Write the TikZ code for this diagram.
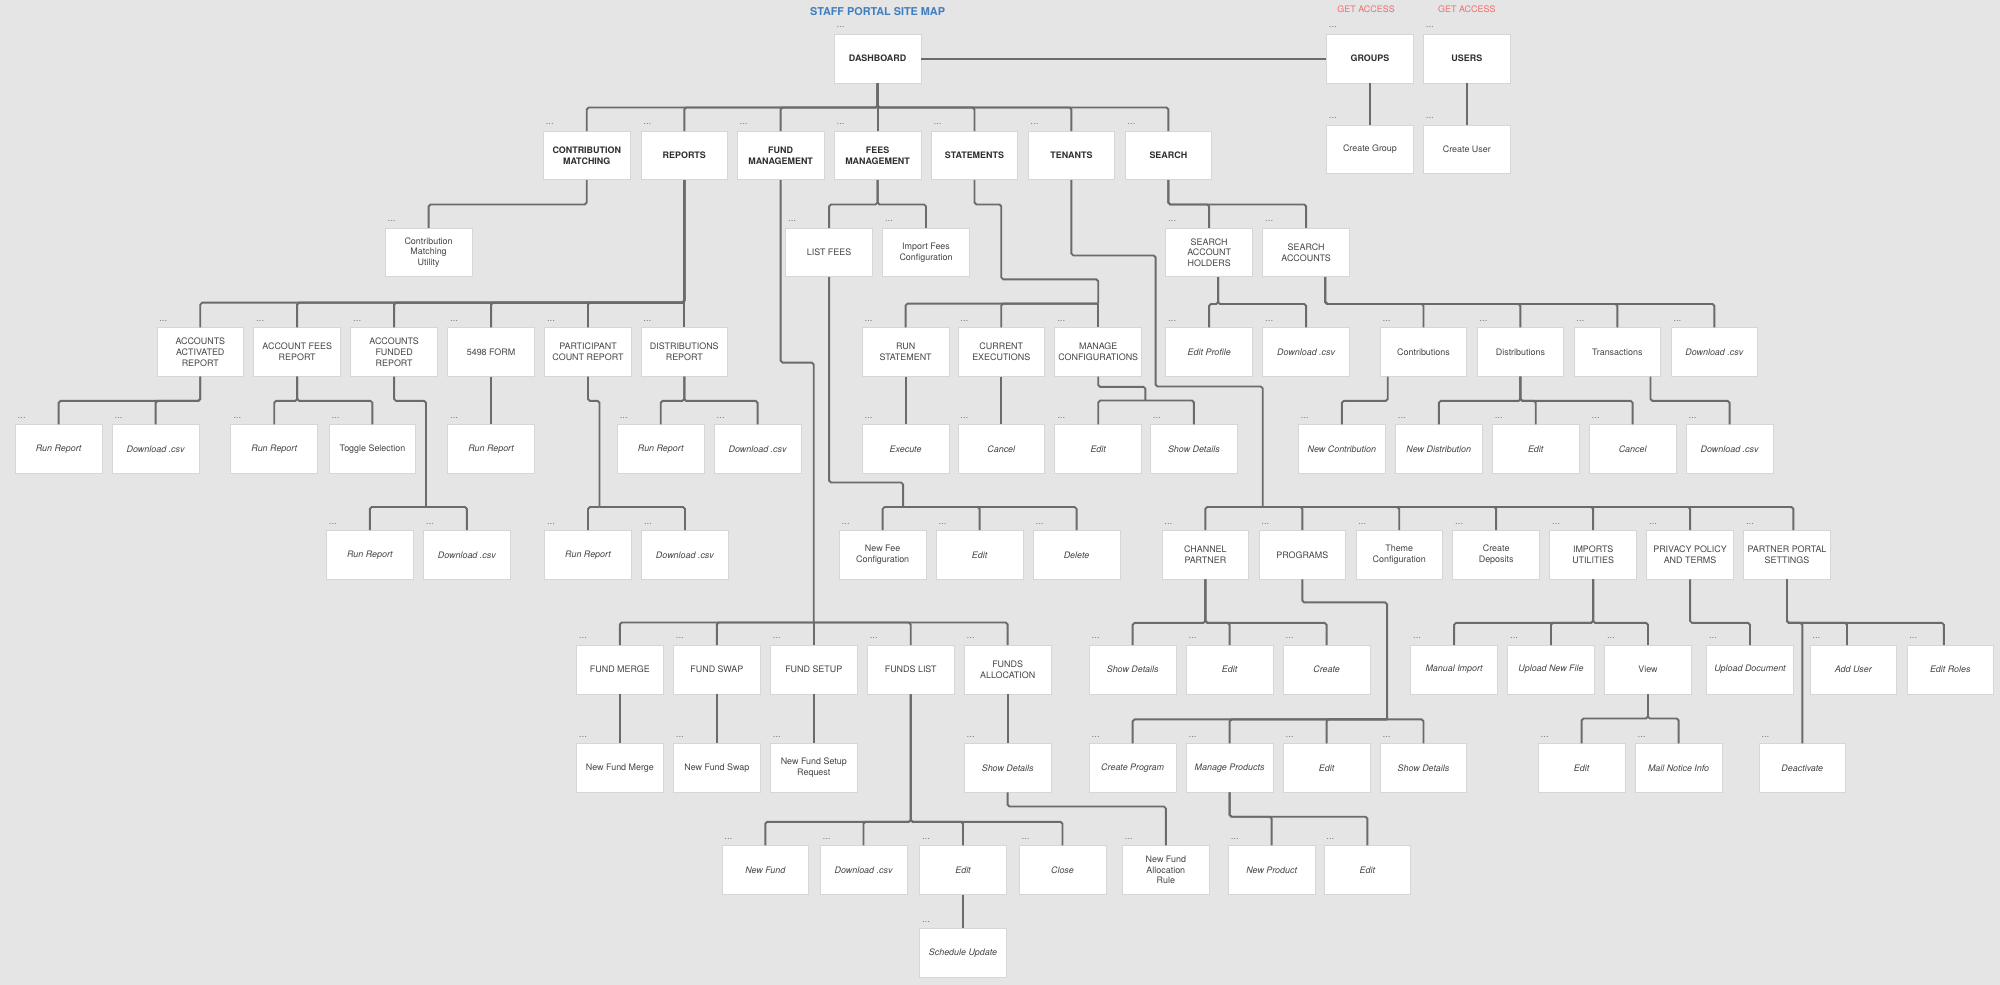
\documentclass[tikz,border=0pt]{standalone}
\usepackage{fontspec}
\setmainfont{TeX Gyre Heros}
\definecolor{canvas}{HTML}{E5E5E5}
\definecolor{wirecol}{HTML}{6B6B6B}
\definecolor{rim}{HTML}{D6D6D6}
\definecolor{ink}{HTML}{444444}
\definecolor{darkink}{HTML}{2E2E2E}
\definecolor{titleblue}{HTML}{3F7EBF}
\definecolor{accessred}{HTML}{F26B6B}
\definecolor{dotgray}{HTML}{7A7A7A}

\begin{document}
\begin{tikzpicture}[x=1pt,y=-1pt,
    pagebox/.style={draw=rim, line width=0.6pt, fill=white, text=ink, align=center,
        minimum width=68, minimum height=38, inner sep=1pt,
        font=\fontsize{7}{8.4}\selectfont, label={[dotlbl]north west:...}},
    dotlbl/.style={anchor=south west, inner sep=0pt, xshift=2, yshift=4.5,
        text=dotgray, font=\fontsize{7.5}{7.5}\selectfont},
    secbox/.style={pagebox, text=darkink, font=\fontsize{7}{8.4}\selectfont\bfseries},
    actbox/.style={pagebox, font=\fontsize{7}{8.4}\selectfont\itshape},
    wire/.style={draw=wirecol, line width=1.5pt, rounded corners=1.5pt},
    drop/.style={to path={-- ++(0,#1) -| (\tikztotarget)}},
    hv/.style={to path={-| (\tikztotarget)}},
    access/.style={text=accessred, font=\fontsize{7}{8}\selectfont},
  ]

    \path[use as bounding box, fill=canvas] (0,0) rectangle (1568,772.2);

    \node[text=titleblue, font=\fontsize{8.5}{10}\selectfont\bfseries] (title) at (688, 9) {STAFF PORTAL SITE MAP};
    \node[access] (accg) at (1071, 7) {GET ACCESS};
    \node[access] (accu) at (1150, 7) {GET ACCESS};

    % top row
    \node[secbox] (dash) at (688, 46) {DASHBOARD};
    \node[secbox] (groups) at (1074, 46) {GROUPS};
    \node[secbox] (users) at (1150, 46) {USERS};
    \node[pagebox] (crgroup) at (1074, 117) {Create Group};
    \node[pagebox] (cruser) at (1150, 117) {Create User};

    % sections
    \node[secbox] (cm) at (460, 122) {CONTRIBUTION\\MATCHING};
    \node[secbox] (reports) at (536.5, 122) {REPORTS};
    \node[secbox] (fundmgmt) at (612, 122) {FUND\\MANAGEMENT};
    \node[secbox] (feesmgmt) at (688, 122) {FEES\\MANAGEMENT};
    \node[secbox] (statements) at (764, 122) {STATEMENTS};
    \node[secbox] (tenants) at (840, 122) {TENANTS};
    \node[secbox] (search) at (916, 122) {SEARCH};

    % level 2
    \node[pagebox] (cmu) at (336, 198) {Contribution\\Matching\\Utility};
    \node[pagebox] (listfees) at (650, 198) {LIST FEES};
    \node[pagebox] (importfees) at (726, 198) {Import Fees\\Configuration};
    \node[pagebox] (sah) at (948, 198) {SEARCH\\ACCOUNT\\HOLDERS};
    \node[pagebox] (sacc) at (1024, 198) {SEARCH\\ACCOUNTS};

    % level 3
    \node[pagebox] (aar) at (157, 276) {ACCOUNTS\\ACTIVATED\\REPORT};
    \node[pagebox] (afr) at (233, 276) {ACCOUNT FEES\\REPORT};
    \node[pagebox] (afdr) at (309, 276) {ACCOUNTS\\FUNDED\\REPORT};
    \node[pagebox] (form) at (385, 276) {5498 FORM};
    \node[pagebox] (pcr) at (461, 276) {PARTICIPANT\\COUNT REPORT};
    \node[pagebox] (dr) at (536.5, 276) {DISTRIBUTIONS\\REPORT};
    \node[pagebox] (runst) at (710, 276) {RUN\\STATEMENT};
    \node[pagebox] (curex) at (785, 276) {CURRENT\\EXECUTIONS};
    \node[pagebox] (mancfg) at (861, 276) {MANAGE\\CONFIGURATIONS};
    \node[actbox] (editprof) at (948, 276) {Edit Profile};
    \node[actbox] (sahcsv) at (1024, 276) {Download .csv};
    \node[pagebox] (contribs) at (1116, 276) {Contributions};
    \node[pagebox] (distribs) at (1192, 276) {Distributions};
    \node[pagebox] (trans) at (1268, 276) {Transactions};
    \node[actbox] (saccsv) at (1344, 276) {Download .csv};

    % level 4
    \node[actbox] (aarrun) at (46, 352) {Run Report};
    \node[actbox] (aarcsv) at (122, 352) {Download .csv};
    \node[actbox] (afrrun) at (215, 352) {Run Report};
    \node[pagebox] (afrtog) at (292, 352) {Toggle Selection};
    \node[actbox] (formrun) at (385, 352) {Run Report};
    \node[actbox] (drrun) at (518, 352) {Run Report};
    \node[actbox] (drcsv) at (594, 352) {Download .csv};
    \node[actbox] (exec) at (710, 352) {Execute};
    \node[actbox] (cancel) at (785, 352) {Cancel};
    \node[actbox] (cfgedit) at (861, 352) {Edit};
    \node[actbox] (cfgshow) at (936, 352) {Show Details};
    \node[actbox] (newcon) at (1052, 352) {New Contribution};
    \node[actbox] (newdis) at (1128, 352) {New Distribution};
    \node[actbox] (disedit) at (1204, 352) {Edit};
    \node[actbox] (discancel) at (1280, 352) {Cancel};
    \node[actbox] (transcsv) at (1356, 352) {Download .csv};

    % level 5
    \node[actbox] (afdrrun) at (290, 435) {Run Report};
    \node[actbox] (afdrcsv) at (366, 435) {Download .csv};
    \node[actbox] (pcrrun) at (461, 435) {Run Report};
    \node[actbox] (pcrcsv) at (537, 435) {Download .csv};
    \node[pagebox] (newfee) at (692, 435) {New Fee\\Configuration};
    \node[actbox] (feeedit) at (768, 435) {Edit};
    \node[actbox] (feedel) at (844, 435) {Delete};
    \node[pagebox] (chp) at (945, 435) {CHANNEL\\PARTNER};
    \node[pagebox] (programs) at (1021, 435) {PROGRAMS};
    \node[pagebox] (theme) at (1097, 435) {Theme\\Configuration};
    \node[pagebox] (deposits) at (1173, 435) {Create\\Deposits};
    \node[pagebox] (imports) at (1249, 435) {IMPORTS\\UTILITIES};
    \node[pagebox] (privacy) at (1325, 435) {PRIVACY POLICY\\AND TERMS};
    \node[pagebox] (ppset) at (1401, 435) {PARTNER PORTAL\\SETTINGS};

    % level 6
    \node[pagebox] (fmerge) at (486, 525) {FUND MERGE};
    \node[pagebox] (fswap) at (562, 525) {FUND SWAP};
    \node[pagebox] (fsetup) at (638, 525) {FUND SETUP};
    \node[pagebox] (flist) at (714, 525) {FUNDS LIST};
    \node[pagebox] (falloc) at (790, 525) {FUNDS\\ALLOCATION};
    \node[actbox] (chpshow) at (888, 525) {Show Details};
    \node[actbox] (chpedit) at (964, 525) {Edit};
    \node[actbox] (chpcreate) at (1040, 525) {Create};
    \node[actbox] (manimp) at (1140, 525) {Manual Import};
    \node[actbox] (upfile) at (1216, 525) {Upload New File};
    \node[pagebox] (view) at (1292, 525) {View};
    \node[actbox] (updoc) at (1372, 525) {Upload Document};
    \node[actbox] (adduser) at (1453, 525) {Add User};
    \node[actbox] (editroles) at (1529, 525) {Edit Roles};

    % level 7
    \node[pagebox] (newmerge) at (486, 602) {New Fund Merge};
    \node[pagebox] (newswap) at (562, 602) {New Fund Swap};
    \node[pagebox] (newsetup) at (638, 602) {New Fund Setup\\Request};
    \node[actbox] (fashow) at (790, 602) {Show Details};
    \node[actbox] (crprog) at (888, 602) {Create Program};
    \node[actbox] (manprod) at (964, 602) {Manage Products};
    \node[actbox] (progedit) at (1040, 602) {Edit};
    \node[actbox] (progshow) at (1116, 602) {Show Details};
    \node[actbox] (viewedit) at (1240, 602) {Edit};
    \node[actbox] (mailinfo) at (1316, 602) {Mail Notice Info};
    \node[actbox] (deact) at (1413, 602) {Deactivate};

    % level 8 and 9
    \node[actbox] (newfund) at (600, 682) {New Fund};
    \node[actbox] (flcsv) at (677, 682) {Download .csv};
    \node[actbox] (fledit) at (755, 682) {Edit};
    \node[actbox] (flclose) at (833, 682) {Close};
    \node[pagebox] (farule) at (914, 682) {New Fund\\Allocation\\Rule};
    \node[actbox] (newprod) at (997, 682) {New Product};
    \node[actbox] (prodedit) at (1072, 682) {Edit};
    \node[actbox] (schedule) at (755, 747) {Schedule Update};

    % bus points of the offset trunks
    \coordinate (fmbus) at (638, 488);
    \coordinate (stbus) at (861, 238);
    \coordinate (tnbus) at (990, 397.5);
    \coordinate (afdrbus) at (334, 397.5);
    \coordinate (pcrbus) at (470, 397.5);
    \coordinate (lfbus) at (708, 397.5);
    \coordinate (mcbus) at (898, 314);
    \coordinate (prbus) at (1087.5, 564);

    \draw[wire] (fundmgmt.south) -- ++(0,143) -| (fmbus);
    \draw[wire] (statements.south) -- ++(0,19) -| (785,219) -| (stbus);
    \draw[wire] (tenants.south) -- ++(0,59) -| (906,303) -| (tnbus);
    \draw[wire] (afdr.south) -- ++(0,19) -| (afdrbus);
    \draw[wire] (pcr.south) -- ++(0,19) -| (pcrbus);
    \draw[wire] (listfees.south) -- ++(0,161) -| (lfbus);
    \draw[wire] (mancfg.south) -- ++(0,8) -| (mcbus);
    \draw[wire] (programs.south) -- ++(0,18) -| (prbus);

    \path[wire]
    (dash) edge (groups)
    (groups) edge (crgroup)
    (users) edge (cruser)
    (dash.south) edge[drop=19] (cm.north)
    (dash.south) edge[drop=19] (reports.north)
    (dash.south) edge[drop=19] (fundmgmt.north)
    (dash.south) edge (feesmgmt.north)
    (dash.south) edge[drop=19] (statements.north)
    (dash.south) edge[drop=19] (tenants.north)
    (dash.south) edge[drop=19] (search.north)
    (cm.south) edge[drop=19] (cmu.north)
    (feesmgmt.south) edge[drop=19] (listfees.north)
    (feesmgmt.south) edge[drop=19] (importfees.north)
    (search.south) edge[drop=19] (sah.north)
    (search.south) edge[drop=19] (sacc.north)
    (reports.south) edge[drop=96] (aar.north)
    (reports.south) edge[drop=96] (afr.north)
    (reports.south) edge[drop=96] (afdr.north)
    (reports.south) edge[drop=96] (form.north)
    (reports.south) edge[drop=96] (pcr.north)
    (reports.south) edge (dr.north)
    (stbus) edge[hv] (runst.north)
    (stbus) edge[hv] (curex.north)
    (stbus) edge (mancfg.north)
    ([xshift=7]sah.south) edge[drop=21] (editprof.north)
    ([xshift=7]sah.south) edge[drop=21] (sahcsv.north)
    ([xshift=15]sacc.south) edge[drop=21] (contribs.north)
    ([xshift=15]sacc.south) edge[drop=21] (distribs.north)
    ([xshift=15]sacc.south) edge[drop=21] (trans.north)
    ([xshift=15]sacc.south) edge[drop=21] (saccsv.north)
    (aar.south) edge[drop=19] (aarrun.north)
    (aar.south) edge[drop=19] (aarcsv.north)
    (afr.south) edge[drop=19] (afrrun.north)
    (afr.south) edge[drop=19] (afrtog.north)
    (form) edge (formrun)
    (dr.south) edge[drop=19] (drrun.north)
    (dr.south) edge[drop=19] (drcsv.north)
    (runst) edge (exec)
    (curex) edge (cancel)
    (mcbus) edge[hv] (cfgedit.north)
    (mcbus) edge[hv] (cfgshow.north)
    ([xshift=-28]contribs.south) edge[drop=19] (newcon.north)
    (distribs.south) edge[drop=19] (newdis.north)
    (distribs.south) edge[drop=19] (disedit.north)
    (distribs.south) edge[drop=19] (discancel.north)
    ([xshift=26]trans.south) edge[drop=19] (transcsv.north)
    (afdrbus) edge[hv] (afdrrun.north)
    (afdrbus) edge[hv] (afdrcsv.north)
    (pcrbus) edge[hv] (pcrrun.north)
    (pcrbus) edge[hv] (pcrcsv.north)
    (lfbus) edge[hv] (newfee.north)
    (lfbus) edge[hv] (feeedit.north)
    (lfbus) edge[hv] (feedel.north)
    (tnbus) edge[hv] (chp.north)
    (tnbus) edge[hv] (programs.north)
    (tnbus) edge[hv] (theme.north)
    (tnbus) edge[hv] (deposits.north)
    (tnbus) edge[hv] (imports.north)
    (tnbus) edge[hv] (privacy.north)
    (tnbus) edge[hv] ([xshift=5]ppset.north)
    (fmbus) edge[hv] (fmerge.north)
    (fmbus) edge[hv] (fswap.north)
    (fmbus) edge (fsetup.north)
    (fmbus) edge[hv] (flist.north)
    (fmbus) edge[hv] (falloc.north)
    (chp.south) edge[drop=34] (chpshow.north)
    (chp.south) edge[drop=34] (chpedit.north)
    (chp.south) edge[drop=34] (chpcreate.north)
    (imports.south) edge[drop=34] (manimp.north)
    (imports.south) edge[drop=34] (upfile.north)
    (imports.south) edge[drop=34] (view.north)
    (privacy.south) edge[drop=34] (updoc.north)
    (ppset.south) edge[drop=34] (deact.north)
    (ppset.south) edge[drop=34] ([xshift=-5]adduser.north)
    (ppset.south) edge[drop=34] ([xshift=-5]editroles.north)
    (fmerge) edge (newmerge)
    (fswap) edge (newswap)
    (fsetup) edge (newsetup)
    (falloc) edge (fashow)
    (prbus) edge[hv] (crprog.north)
    (prbus) edge[hv] (manprod.north)
    (prbus) edge[hv] (progedit.north)
    (prbus) edge[hv] (progshow.north)
    (view.south) edge[drop=19] (viewedit.north)
    (view.south) edge[drop=19] (mailinfo.north)
    (flist.south) edge[drop=100] (newfund.north)
    (flist.south) edge[drop=100] (flcsv.north)
    (flist.south) edge[drop=100] (fledit.north)
    (flist.south) edge[drop=100] (flclose.north)
    (fashow.south) edge[drop=11] (farule.north)
    (manprod.south) edge[drop=19] (newprod.north)
    (manprod.south) edge[drop=19] (prodedit.north)
    (fledit) edge (schedule)
    ;

\end{tikzpicture}
\end{document}
